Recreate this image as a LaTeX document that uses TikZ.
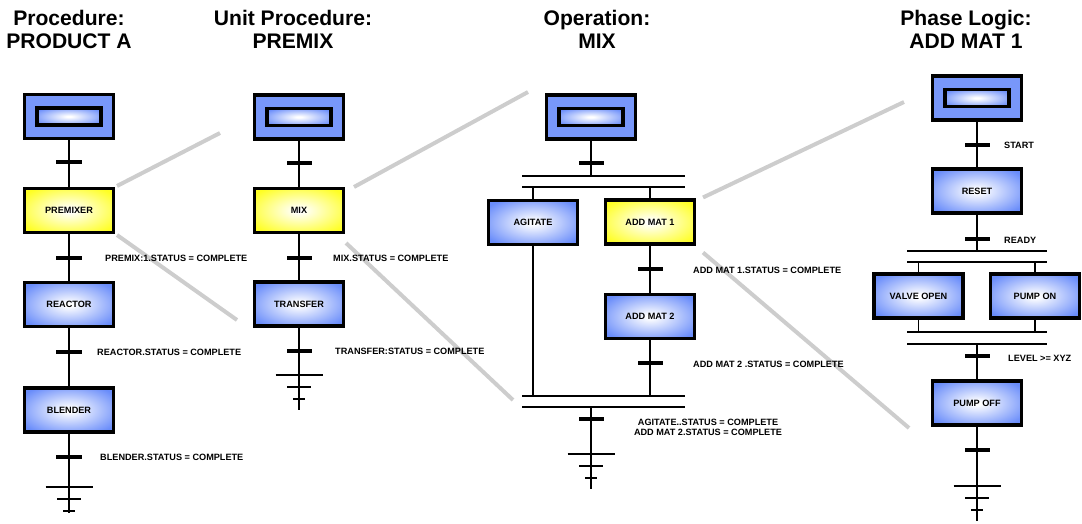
\documentclass[tikz,border=0pt]{standalone}
\usepackage{fontspec}
\setmainfont{Liberation Sans}
\usepackage{tikz}
\usetikzlibrary{backgrounds}
\definecolor{myblue}{RGB}{105,140,250}
\definecolor{myyellow}{RGB}{255,255,35}
\definecolor{mygray}{RGB}{205,205,205}
\pgfdeclareradialshading{blueshade}{\pgfpoint{0bp}{0bp}}{color(0bp)=(white); color(2bp)=(white); color(31bp)=(myblue); color(50bp)=(myblue)}
\pgfdeclareradialshading{yellowshade}{\pgfpoint{0bp}{0bp}}{color(0bp)=(white); color(2bp)=(white); color(31bp)=(myyellow); color(50bp)=(myyellow)}

\begin{document}
\begin{tikzpicture}[x=0.03cm, y=-0.03cm,
		box/.style = {draw, line width=2.6pt, minimum width=2.67cm, minimum height=1.32cm, font=\bfseries\fontsize{7.8}{9}\selectfont},
		stp/.style = {box, shading=blueshade},
		act/.style = {box, shading=yellowshade},
		ini/.style = {box, fill=myblue!90!white},
		inr/.style = {draw, line width=2.6pt, minimum width=1.92cm, minimum height=0.51cm, shading=blueshade},
		trn/.style = {fill, inner sep=0pt, minimum width=0.75cm, minimum height=0.1cm},
		cnd/.style = {anchor=west, inner sep=0pt, font=\bfseries\fontsize{7.8}{9}\selectfont},
		ln/.style = {line width=1.3pt},
		zm/.style = {draw=mygray, line width=3.4pt},
		hd/.style = {align=center, inner sep=0pt, font=\bfseries\fontsize{18}{19.5}\selectfont}]
		\useasboundingbox (0,0) rectangle (1082,523);

		% titles
		\node[hd] (h1) at (69,29.5) {Procedure:\\PRODUCT A};
		\node[hd] (h2) at (293,29.5) {Unit Procedure:\\PREMIX};
		\node[hd] (h3) at (597,29.5) {Operation:\\MIX};
		\node[hd] (h4) at (966,29.5) {Phase Logic:\\ADD MAT 1};

		% procedure
		\node[ini] (i1) at (69,116.5) {};
		\node[inr] (i1in) at (i1) {};
		\node[trn] (t11) at (69,162) {};
		\node[act] (s11) at (69,210.5) {PREMIXER};
		\node[trn] (t12) at (69,258) {};
		\node[cnd] (c12) at (105,258) {PREMIX:1.STATUS = COMPLETE};
		\node[stp] (s12) at (69,304.5) {REACTOR};
		\node[trn] (t13) at (69,352) {};
		\node[cnd] (c13) at (97,352) {REACTOR.STATUS = COMPLETE};
		\node[stp] (s13) at (69,410) {BLENDER};
		\node[trn] (t14) at (69,457) {};
		\node[cnd] (c14) at (100,457) {BLENDER.STATUS = COMPLETE};
		\coordinate (g1) at (69,487);
		\coordinate (e1) at (69,513);
		\draw[ln] (i1) -- (s11) (s11) -- (s12) (s12) -- (s13) (s13) -- (e1);

		% unit procedure
		\node[ini] (i2) at (299,117) {};
		\node[inr] (i2in) at (i2) {};
		\node[trn] (t21) at (299,163) {};
		\node[act] (s21) at (299,210.5) {MIX};
		\node[trn] (t22) at (299,258) {};
		\node[cnd] (c22) at (333,258) {MIX.STATUS = COMPLETE};
		\node[stp] (s22) at (299,304) {TRANSFER};
		\node[trn] (t23) at (299,351) {};
		\node[cnd] (c23) at (335,351) {TRANSFER:STATUS = COMPLETE};
		\coordinate (g2) at (299,375);
		\coordinate (e2) at (299,410);
		\draw[ln] (i2) -- (s21) (s21) -- (s22) (s22) -- (e2);

		% operation
		\node[ini] (i3) at (591,117) {};
		\node[inr] (i3in) at (i3) {};
		\node[trn] (t31) at (591,163) {};
		\coordinate (d3a) at (522,176);
		\coordinate (d3b) at (685,176);
		\coordinate (d3c) at (522,187);
		\coordinate (d3d) at (685,187);
		\node[stp] (s31) at (533,222.5) {AGITATE};
		\node[act] (s32) at (650,222) {ADD MAT 1};
		\node[trn] (t32) at (650,269) {};
		\node[cnd] (c32) at (693,270) {ADD MAT 1.STATUS = COMPLETE};
		\node[stp] (s33) at (650,316.5) {ADD MAT 2};
		\node[trn] (t33) at (650,363) {};
		\node[cnd] (c33) at (693,364) {ADD MAT 2 .STATUS = COMPLETE};
		\coordinate (j3a) at (522,396);
		\coordinate (j3b) at (685,396);
		\coordinate (j3c) at (522,407);
		\coordinate (j3d) at (685,407);
		\node[trn] (t34) at (591,419) {};
		\node[cnd, anchor=center, align=center] (c34) at (708,427.5) {AGITATE..STATUS = COMPLETE\\ADD MAT 2.STATUS = COMPLETE};
		\coordinate (g3) at (591,454);
		\coordinate (e3) at (591,489);
		\draw[ln] (d3a) -- (d3b) (d3c) -- (d3d) (j3a) -- (j3b) (j3c) -- (j3d);
		\draw[ln] (i3) -- (i3 |- d3a) (s31 |- d3c) -- (s31) (s32 |- d3c) -- (s32) (s32) -- (s33);
		\draw[ln] (s31) -- (s31 |- j3a) (s33) -- (s33 |- j3a) (i3 |- j3c) -- (e3);

		% phase logic
		\node[ini] (i4) at (977,98) {};
		\node[inr] (i4in) at (i4) {};
		\node[trn] (t41) at (977,145) {};
		\node[cnd] (c41) at (1004,145) {START};
		\node[stp] (s41) at (977,191) {RESET};
		\node[trn] (t42) at (977,239) {};
		\node[cnd] (c42) at (1004,240) {READY};
		\coordinate (d4a) at (907,251);
		\coordinate (d4b) at (1047,251);
		\coordinate (d4c) at (907,262);
		\coordinate (d4d) at (1047,262);
		\node[stp] (s42) at (918.5,296) {VALVE OPEN};
		\node[stp] (s43) at (1035,296) {PUMP ON};
		\coordinate (j4a) at (907,332);
		\coordinate (j4b) at (1047,332);
		\coordinate (j4c) at (907,344);
		\coordinate (j4d) at (1047,344);
		\node[trn] (t43) at (977,356) {};
		\node[cnd] (c43) at (1008,358) {LEVEL >= XYZ};
		\node[stp] (s44) at (977,403) {PUMP OFF};
		\node[trn] (t44) at (977,450) {};
		\coordinate (g4) at (977,486);
		\coordinate (e4) at (977,521);
		\draw[ln] (d4a) -- (d4b) (d4c) -- (d4d) (j4a) -- (j4b) (j4c) -- (j4d);
		\draw[ln] (i4) -- (s41) (s41) -- (s41 |- d4a) (s42 |- d4c) -- (s42) (s43 |- d4c) -- (s43);
		\draw[ln] (s42) -- (s42 |- j4a) (s43) -- (s43 |- j4a) (s44 |- j4c) -- (s44) (s44) -- (e4);

		% end symbols
		\foreach \g in {g1,g2,g3,g4}
			\foreach \d/\w in {0/23.5,12/12,24/6}
				\draw[ln] (\g) ++(-\w,\d) -- ++(2*\w,0);

		% zoom lines
		\coordinate (z1) at (220,133);
		\coordinate (z2) at (237,320);
		\coordinate (z3) at (528,92);
		\coordinate (z4) at (513,400);
		\coordinate (z5) at (904,102);
		\coordinate (z6) at (909,428);
		\begin{scope}[on background layer]
			\draw[zm] ([shift={(2,-1)}]s11.north east) -- (z1);
			\draw[zm] ([shift={(2,1)}]s11.south east) -- (z2);
			\draw[zm] ([shift={(9,0)}]s21.north east) -- (z3);
			\draw[zm] ([shift={(1,9)}]s21.south east) -- (z4);
			\draw[zm] ([shift={(7,-1)}]s32.north east) -- (z5);
			\draw[zm] ([shift={(7,7)}]s32.south east) -- (z6);
		\end{scope}
	\end{tikzpicture}
\end{document}
